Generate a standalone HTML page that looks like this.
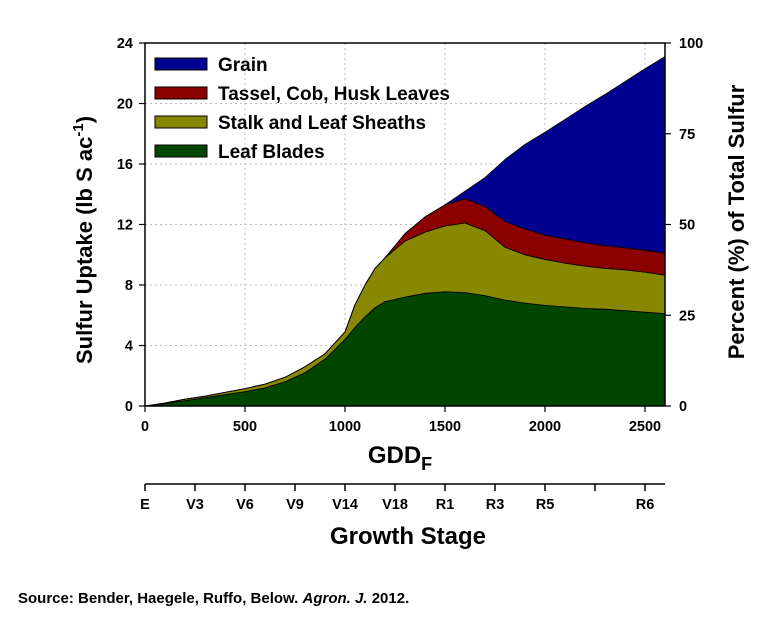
<!DOCTYPE html>
<html><head><meta charset="utf-8"><style>
body{margin:0;background:#fff;}
svg{display:block;font-family:"Liberation Sans",Arial,sans-serif;}
</style></head><body>
<svg id="chart" width="775" height="618" viewBox="0 0 775 618">
<g id="grid"></g>
<g id="areas"></g>
<rect x="145" y="43" width="520" height="363" fill="none" stroke="#000" stroke-width="1.5"/>
<g id="axes"></g>
<g id="legend"></g>
<text transform="translate(92,240) rotate(-90)" text-anchor="middle" font-size="22" font-weight="bold">Sulfur Uptake (lb S ac<tspan dy="-9" font-size="15">-1</tspan><tspan dy="9">)</tspan></text>
<text transform="translate(744,222) rotate(-90)" text-anchor="middle" font-size="22" font-weight="bold">Percent (%) of Total Sulfur</text>
<text x="400" y="463" text-anchor="middle" font-size="24" font-weight="bold">GDD<tspan dy="7" font-size="18">F</tspan></text>
<g id="stage"></g>
<text x="408" y="544" text-anchor="middle" font-size="24" font-weight="bold">Growth Stage</text>
<text x="18" y="603" font-size="15" font-weight="bold">Source: Bender, Haegele, Ruffo, Below. <tspan font-style="italic">Agron. J.</tspan> 2012.</text>
</svg>
<script>
const gdd = [0,100,200,300,400,500,600,700,800,900,1000,1050,1100,1150,1200,1300,1400,1500,1600,1700,1800,1900,2000,2100,2200,2300,2400,2500,2600];
const leafBlades = [0,0.15,0.35,0.55,0.75,0.95,1.2,1.6,2.2,3.1,4.4,5.2,5.9,6.5,6.9,7.2,7.45,7.55,7.5,7.3,7.0,6.8,6.65,6.55,6.45,6.4,6.3,6.2,6.1];
const stalkSheaths = [0,0.05,0.1,0.1,0.15,0.2,0.25,0.3,0.4,0.35,0.5,1.5,2.1,2.6,2.9,3.7,4.05,4.35,4.6,4.3,3.5,3.2,3.05,2.9,2.8,2.7,2.7,2.65,2.55];
const tasselCobHusk = [0,0,0,0,0,0,0,0,0,0,0,0,0,0,0,0.5,1.0,1.4,1.6,1.6,1.7,1.7,1.6,1.6,1.55,1.5,1.45,1.45,1.45];
const grain = [0,0,0,0,0,0,0,0,0,0,0,0,0,0,0,0,0,0,0.5,1.9,4.1,5.6,6.8,7.9,9.0,10.0,11.0,12.0,13.0];
const yTicks = [0,4,8,12,16,20,24];
const xTicks = [0,500,1000,1500,2000,2500];
const pctTicks = [0,25,50,75,100];
const stageLabels = ["E","V3","V6","V9","V14","V18","R1","R3","R5","","R6"];
const stageGdd = [0,250,500,750,1000,1250,1500,1750,2000,2250,2500];

const NS="http://www.w3.org/2000/svg";
const X0=145,X1=665,Y0=406,Y1=43;
const xs=v=>X0+(v/2600)*(X1-X0);
const ys=v=>Y0-(v/24)*(Y0-Y1);
const yp=v=>Y0-(v/100)*(Y0-Y1);
function mk(tag,attrs,parent,txt){const e=document.createElementNS(NS,tag);for(const k in attrs)e.setAttribute(k,attrs[k]);if(txt!==undefined)e.textContent=txt;parent.appendChild(e);return e;}
const grid=document.getElementById('grid'),areas=document.getElementById('areas'),axes=document.getElementById('axes'),legend=document.getElementById('legend'),stage=document.getElementById('stage');

yTicks.forEach(t=>{if(t>0&&t<24){const l=mk('line',{x1:X0,x2:X1,y1:ys(t),y2:ys(t),stroke:'#bbb','stroke-dasharray':'2,3'},grid);

}});
xTicks.forEach(t=>{if(t>0){const l=mk('line',{x1:xs(t),x2:xs(t),y1:Y1,y2:Y0,stroke:'#bbb','stroke-dasharray':'2,3'},grid);

}});

const layers=[[leafBlades,'#004500'],[stalkSheaths,'#878700'],[tasselCobHusk,'#8b0000'],[grain,'#000090']];
let base=gdd.map(()=>0);
const names=['area-leaf-blades','area-stalk-sheaths','area-tassel-cob-husk','area-grain'];
layers.forEach(([vals,col],li)=>{
  const top=base.map((b,i)=>b+vals[i]);
  let d='M'+gdd.map((g,i)=>xs(g).toFixed(1)+','+ys(top[i]).toFixed(1)).join(' L');
  for(let i=gdd.length-1;i>=0;i--)d+=' L'+xs(gdd[i]).toFixed(1)+','+ys(base[i]).toFixed(1);
  d+='Z';
  const p=mk('path',{d:d,fill:col,stroke:'#000','stroke-width':0.8,'stroke-linejoin':'round'},areas);
  
  
  base=top;
});

yTicks.forEach(t=>{mk('line',{x1:X0-6,x2:X0,y1:ys(t),y2:ys(t),stroke:'#000','stroke-width':1.2},axes);
const tx=mk('text',{x:X0-12,y:ys(t)+5,'text-anchor':'end','font-size':14.5,'font-weight':'bold'},axes,String(t));

});
pctTicks.forEach(t=>{mk('line',{x1:X1,x2:X1+6,y1:yp(t),y2:yp(t),stroke:'#000','stroke-width':1.2},axes);
const tx=mk('text',{x:X1+14,y:yp(t)+5,'text-anchor':'start','font-size':14.5,'font-weight':'bold'},axes,String(t));

});
xTicks.forEach(t=>{mk('line',{x1:xs(t),x2:xs(t),y1:Y0,y2:Y0+6,stroke:'#000','stroke-width':1.2},axes);
const tx=mk('text',{x:xs(t),y:Y0+25,'text-anchor':'middle','font-size':14.5,'font-weight':'bold'},axes,String(t));

});

const SY=484;
mk('line',{x1:X0,x2:X1,y1:SY,y2:SY,stroke:'#000','stroke-width':1.5},stage);
stageLabels.forEach((s,i)=>{const x=xs(stageGdd[i]);
mk('line',{x1:x,x2:x,y1:SY,y2:SY+7,stroke:'#000','stroke-width':1.5},stage);
const tx=mk('text',{x:x,y:SY+25,'text-anchor':'middle','font-size':14.5,'font-weight':'bold'},stage,s);

});

const leg=[['Grain','#000090'],['Tassel, Cob, Husk Leaves','#8b0000'],['Stalk and Leaf Sheaths','#878700'],['Leaf Blades','#004500']];
leg.forEach(([n,c],i)=>{const y=64+i*29;
const g=mk('g',{},legend);


mk('rect',{x:155,y:y-6,width:52,height:12,fill:c,stroke:'#000','stroke-width':1},g);
mk('text',{x:218,y:y+7,'font-size':19,'font-weight':'bold'},g,n);});
</script>
</body></html>
